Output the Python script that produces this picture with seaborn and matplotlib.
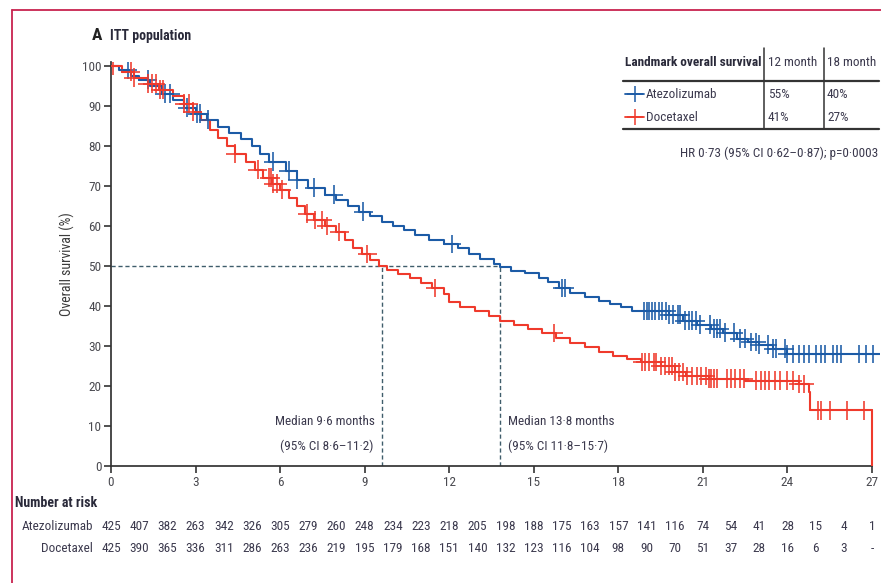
import numpy as np
import pandas as pd
import matplotlib
matplotlib.use("Agg")
import matplotlib.pyplot as plt
from matplotlib import font_manager as fm
from matplotlib.lines import Line2D
import matplotlib.transforms as mtransforms
import seaborn as sns

# ---------------- data ----------------
arms = ["Atezolizumab", "Docetaxel"]

atezo_time = [0, 0.3, 0.7, 1.0, 1.4, 1.8, 2.2, 2.6, 3.0, 3.4, 3.8, 4.2, 4.6, 5.0, 5.3,
              5.6, 6.2, 6.6, 7.0, 7.6, 8.0, 8.4, 8.8, 9.2, 9.6, 10.0, 10.4, 10.8, 11.3,
              11.8, 12.3, 12.7, 13.1, 13.6, 13.8, 14.2, 14.7, 15.2, 15.5, 15.9, 16.3,
              16.8, 17.3, 17.7, 18.1, 18.5, 19.8, 20.3, 20.8, 21.3, 21.7, 22.2, 22.6,
              23.0, 23.5, 24.0, 27.3]
atezo_surv = [100, 99, 97.5, 96.5, 95, 93, 91.5, 89.5, 88, 86.5, 84.8, 83.2, 81.6, 80, 78,
              76, 73.8, 71.5, 69.5, 67.8, 66.5, 65, 63.5, 62.5, 61, 60, 59, 57.8, 56.5,
              55.5, 54.5, 53, 51.8, 50.5, 49.8, 48.8, 48.2, 47, 46, 44.5, 43.2,
              42.2, 41.3, 40.5, 39.6, 38.7, 37.8, 36.3, 35.3, 34.3, 33.3, 31.8, 31.0,
              30.3, 29.3, 28.0, 28.0]

doce_time = [0, 0.4, 0.8, 1.3, 1.7, 2.2, 2.6, 2.9, 3.2, 3.5, 3.8, 4.1, 4.4, 4.8, 5.1,
             5.4, 5.7, 6.0, 6.3, 6.6, 6.9, 7.2, 7.6, 8.0, 8.3, 8.6, 8.9, 9.2, 9.5, 9.8,
             10.2, 10.6, 11.0, 11.4, 11.8, 12.0, 12.4, 12.9, 13.4, 13.8, 14.3, 14.8,
             15.3, 15.8, 16.3, 16.8, 17.3, 17.8, 18.3, 18.8, 19.5, 20.0, 20.4, 21.2,
             22.5, 24.4, 24.75, 24.8, 27.0]
doce_surv = [100, 98.5, 97, 95.5, 94, 92.5, 90.5, 88.5, 86.5, 84, 82, 80, 78, 76, 74,
             72, 70.5, 69, 67, 65, 63, 61.5, 60, 58.5, 56.5, 54.5, 53, 51.5, 50, 49,
             48, 47, 45.8, 44.5, 43, 41, 39.8, 38.8, 37.5, 36.2, 35.2, 34.2,
             33.2, 32, 30.8, 29.8, 28.6, 27.6, 26.8, 26.0, 25.0, 23.5, 22.5, 21.8,
             21.3, 20.5, 18.4, 13.9, 0]

atezo_censor = [0.6, 1.3, 1.9, 2.1, 2.7, 3.05, 3.15, 3.45, 5.75, 6.3, 6.6, 7.2, 7.9, 8.95,
                12.1, 16.0, 16.1,
                18.9, 19.0, 19.1, 19.2, 19.3, 19.45, 19.55, 19.7, 19.8, 19.95, 20.1,
                20.2, 20.35, 20.5, 20.6, 20.75, 20.9, 21.25, 21.4, 21.5, 21.6, 21.8,
                22.1, 22.3, 22.5, 22.7, 22.9, 23.0, 23.3, 23.5, 23.6, 23.9, 24.0,
                24.2, 24.4, 24.6, 24.75, 25.0, 25.2, 25.35, 25.6, 25.75, 25.9,
                26.55, 26.8, 27.05]
doce_censor = [0.07, 0.7, 0.8, 1.3, 1.45, 1.6, 1.75, 1.85, 2.6, 2.75, 2.9, 4.4, 5.2, 5.6,
               5.68, 5.75, 5.9, 6.05, 6.95, 7.25, 7.5, 7.65, 8.1, 9.1, 11.5, 15.7,
               18.85, 18.95, 19.1, 19.25, 19.35, 19.5, 19.65, 19.8, 19.9, 20.0, 20.15,
               20.3, 20.45, 20.6, 20.8, 20.95, 21.1, 21.2, 21.3, 21.4, 21.5, 21.85,
               22.0, 22.15, 22.3, 22.45, 22.9, 23.05, 23.2, 23.35, 23.55, 23.75,
               24.0, 24.2, 24.4, 24.6, 25.1, 25.2, 25.5, 26.1, 26.7]

risk_months = list(range(0, 28))
atezo_risk = ["425", "407", "382", "263", "342", "326", "305", "279", "260", "248", "234",
              "223", "218", "205", "198", "188", "175", "163", "157", "141", "116", "74",
              "54", "41", "28", "15", "4", "1"]
doce_risk = ["425", "390", "365", "336", "311", "286", "263", "236", "219", "195", "179",
             "168", "151", "140", "132", "123", "116", "104", "98", "90", "70", "51",
             "37", "28", "16", "6", "3", "-"]

x_ticks = [0, 3, 6, 9, 12, 15, 18, 21, 24, 27]
y_ticks = [0, 10, 20, 30, 40, 50, 60, 70, 80, 90, 100]

medians = [9.6, 13.8]
landmark_12 = ["55%", "41%"]
landmark_18 = ["40%", "27%"]

# ---------------- style ----------------
BLUE = "#1c5ba6"
RED = "#ef3a2c"
TXT = "#3c3a4e"
DASH = "#3f5d6b"
W, H = 881, 583


def pick_narrow_font():
    """Prefer a narrow / condensed sans face when one is installed."""
    entries = fm.fontManager.ttflist
    names = {e.name for e in entries}
    for fam in ["Liberation Sans Narrow", "Roboto Condensed", "Open Sans Condensed",
                "Noto Sans Condensed", "DejaVu Sans Condensed", "Arial Narrow"]:
        if fam in names:
            return fam, "normal"
    for e in entries:
        if e.name in ("DejaVu Sans", "Noto Sans", "Open Sans", "Roboto") and \
                str(e.stretch) in ("condensed", "semi-condensed", "extra-condensed"):
            return e.name, str(e.stretch)
    return "Roboto", "normal"


FAMILY, STRETCH = pick_narrow_font()

sns.set_theme(style="ticks")
plt.rcParams["font.family"] = [FAMILY, "DejaVu Sans"]
plt.rcParams["font.stretch"] = STRETCH
plt.rcParams["axes.edgecolor"] = "#333333"

FS = 9.5

fig = plt.figure(figsize=(W / 100, H / 100), dpi=100)
fig.patch.set_facecolor("white")


def fx(px):
    return px / W


def fy(py):
    return 1 - py / H


# axes placed so that 0..27 months spans pixel 111..872
x0_px, month_px = 111, (872 - 111) / 27
xmax = 27.3
ax_w_px = xmax * month_px
ax = fig.add_axes([fx(x0_px), fy(466), ax_w_px / W, (466 - 61.7) / H])
ax.set_xlim(0, xmax)
ax.set_ylim(0, 101)

curves = pd.concat([
    pd.DataFrame({"t": atezo_time, "s": atezo_surv, "arm": arms[0]}),
    pd.DataFrame({"t": doce_time, "s": doce_surv, "arm": arms[1]}),
], ignore_index=True)
palette = {arms[0]: BLUE, arms[1]: RED}

sns.lineplot(data=curves, x="t", y="s", hue="arm", palette=palette, estimator=None,
             drawstyle="steps-post", linewidth=1.5, legend=False, ax=ax, zorder=3)


def surv_at(times, surv, t):
    idx = np.searchsorted(np.asarray(times), t, side="right") - 1
    return np.asarray(surv)[idx]


cens = pd.concat([
    pd.DataFrame({"t": atezo_censor, "s": surv_at(atezo_time, atezo_surv, atezo_censor),
                  "arm": arms[0]}),
    pd.DataFrame({"t": doce_censor, "s": surv_at(doce_time, doce_surv, doce_censor),
                  "arm": arms[1]}),
], ignore_index=True)
sns.scatterplot(data=cens, x="t", y="s", hue="arm", palette=palette, marker="+",
                s=180, linewidth=1.15, legend=False, ax=ax, zorder=4)

# median reference lines
for m in medians:
    ax.plot([m, m], [0, 50], color=DASH, lw=1, ls=(0, (3, 2)), zorder=2)
ax.plot([0, max(medians)], [50, 50], color=DASH, lw=1, ls=(0, (3, 2)), zorder=2)

ax.text(medians[0] - 0.25, 11.0, "Median 9·6 months", ha="right", va="center",
        fontsize=FS, color=TXT)
ax.text(medians[0] - 0.3, 5.0, "(95% CI 8·6–11·2)", ha="right", va="center",
        fontsize=FS, color=TXT)
ax.text(medians[1] + 0.3, 11.0, "Median 13·8 months", ha="left", va="center",
        fontsize=FS, color=TXT)
ax.text(medians[1] + 0.3, 5.0, "(95% CI 11·8–15·7)", ha="left", va="center",
        fontsize=FS, color=TXT)

# axes cosmetics
sns.despine(ax=ax)
ax.spines["bottom"].set_bounds(0, 27)
ax.spines["left"].set_bounds(0, 101)
ax.set_xticks(x_ticks)
ax.set_yticks(y_ticks)
ax.tick_params(axis="both", direction="out", length=5, width=1.2, color="#333333",
               labelsize=FS, labelcolor="#4a4a50", pad=2)
ax.set_xlabel("")
ax.set_ylabel("Overall survival (%)", fontsize=10, color="#3a3a3a")
ax.yaxis.set_label_coords((75 - x0_px) / ax_w_px, 0.5)
ax.grid(False)

# number at risk rows, aligned with the month scale
trans = mtransforms.blended_transform_factory(ax.transData, fig.transFigure)
fig.text(fx(15), fy(503), "Number at risk", ha="left", va="center", fontsize=FS + 0.5,
         fontweight="bold", color="#2a2a3a")
fig.text(fx(93), fy(526), arms[0], ha="right", va="center", fontsize=FS, color=TXT)
fig.text(fx(93), fy(549), arms[1], ha="right", va="center", fontsize=FS, color=TXT)
for m, a, d in zip(risk_months, atezo_risk, doce_risk):
    ax.text(m, fy(526), a, transform=trans, ha="center", va="center", fontsize=FS,
            color=TXT, clip_on=False)
    ax.text(m, fy(549), d, transform=trans, ha="center", va="center", fontsize=FS,
            color=TXT, clip_on=False)

# panel title
fig.text(fx(92), fy(35), "A", ha="left", va="center", fontsize=12.5, fontweight="bold",
         color="#222222")
fig.text(fx(110), fy(36), "ITT population", ha="left", va="center", fontsize=FS + 0.5,
         fontweight="bold", color="#2a2a3a")

# landmark survival table
fig.text(fx(625), fy(62), "Landmark overall survival", ha="left", va="center",
         fontsize=FS, fontweight="bold", color="#2a2a3a")
fig.text(fx(768), fy(62), "12 month", ha="left", va="center", fontsize=FS, color=TXT)
fig.text(fx(827), fy(62), "18 month", ha="left", va="center", fontsize=FS, color=TXT)
fig.add_artist(Line2D([fx(623), fx(879)], [fy(81), fy(81)], color="#333333", lw=1.6))
fig.add_artist(Line2D([fx(623), fx(879)], [fy(129), fy(129)], color="#333333", lw=1.6))
for xv in (764, 824):
    fig.add_artist(Line2D([fx(xv), fx(xv)], [fy(48), fy(129)], color="#333333", lw=1.1))
for row_y, name, col, v12, v18 in zip((94, 117), arms, (BLUE, RED), landmark_12,
                                      landmark_18):
    fig.add_artist(Line2D([fx(625), fx(644)], [fy(row_y), fy(row_y)], color=col, lw=1.3))
    fig.add_artist(Line2D([fx(634.5)], [fy(row_y)], color=col, marker="+",
                          markersize=11, markeredgewidth=1.1))
    fig.text(fx(646), fy(row_y), name, ha="left", va="center", fontsize=FS, color=TXT)
    fig.text(fx(768), fy(row_y), v12, ha="left", va="center", fontsize=FS, color=TXT)
    fig.text(fx(827), fy(row_y), v18, ha="left", va="center", fontsize=FS, color=TXT)
fig.text(fx(878), fy(153), "HR 0·73 (95% CI 0·62–0·87); p=0·0003", ha="right",
         va="center", fontsize=FS, color=TXT)

# page frame
fig.add_artist(Line2D([fx(12), fx(12)], [fy(10), 0], color="#c8234f", lw=1.3))
fig.add_artist(Line2D([fx(12), 1], [fy(10), fy(10)], color="#c8234f", lw=1.3))

fig.savefig("out.png", dpi=100, facecolor="white")
